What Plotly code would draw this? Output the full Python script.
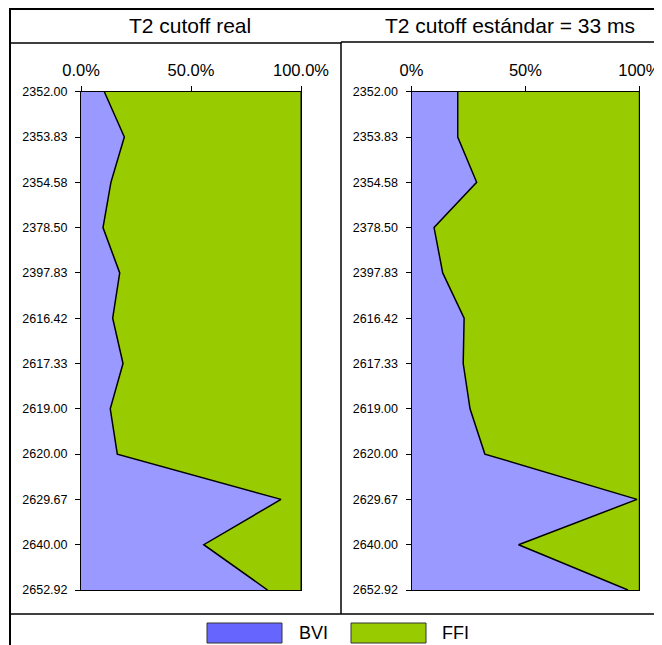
import plotly.graph_objects as go

# page is shown with an 8px body margin, so the figure is 8px smaller and shifted
OFF = 8
W, H = 662 - OFF, 645 - OFF

depths = ["2352.00", "2353.83", "2354.58", "2378.50", "2397.83", "2616.42",
          "2617.33", "2619.00", "2620.00", "2629.67", "2640.00", "2652.92"]

bvi_real = [10.6, 19.7, 13.6, 10.0, 17.6, 14.4, 19.1, 13.3, 16.5, 90.9, 55.8, 84.8]
ffi_real = [89.4, 80.3, 86.4, 90.0, 82.4, 85.6, 80.9, 86.7, 83.5, 9.1, 44.2, 15.2]

bvi_std = [20.3, 20.3, 28.6, 9.9, 13.7, 23.1, 22.7, 25.7, 32.2, 99.0, 47.0, 95.0]
ffi_std = [79.7, 79.7, 71.4, 90.1, 86.3, 76.9, 77.3, 74.3, 67.8, 1.0, 53.0, 5.0]

xtick_vals = [0, 50, 100]
xtick_real = ["0.0%", "50.0%", "100.0%"]
xtick_std = ["0%", "50%", "100%"]

titles = ["T2 cutoff real", "T2 cutoff estándar = 33 ms"]
legend_names = ["BVI", "FFI"]

FONT = "Arial, 'Liberation Sans', sans-serif"
BVI_FILL = "#9999ff"
BVI_LEG = "#6666ff"
FFI_FILL = "#99cc00"


def px(x):
    return (x - OFF) / W


def py(y):
    return 1 - (y - OFF) / H


fig = go.Figure()

for (bvi, ffi, xa, ya, sg) in [(bvi_real, ffi_real, "x", "y", "a"),
                               (bvi_std, ffi_std, "x2", "y2", "b")]:
    fig.add_trace(go.Scatter(
        x=bvi, y=depths, xaxis=xa, yaxis=ya, name="BVI",
        stackgroup=sg, orientation="h", mode="lines",
        line=dict(color="black", width=1.5), fillcolor=BVI_FILL,
        showlegend=False))
    fig.add_trace(go.Scatter(
        x=ffi, y=depths, xaxis=xa, yaxis=ya, name="FFI",
        stackgroup=sg, orientation="h", mode="lines",
        line=dict(color="black", width=1), fillcolor=FFI_FILL,
        showlegend=False))

y_dom = [py(590), py(91.7)]

xcommon = dict(range=[0, 100], side="top", tickmode="array", tickvals=xtick_vals,
               ticks="outside", ticklen=5, tickcolor="black", showgrid=False,
               zeroline=False, showline=True, mirror=True, linecolor="black",
               linewidth=1, tickfont=dict(family=FONT, size=16.5, color="black"),
               fixedrange=True, automargin=False, ticklabelstandoff=3)
ycommon = dict(type="category", range=[11, 0], ticks="outside", ticklen=5,
               tickcolor="black", showgrid=False, zeroline=False, showline=True,
               mirror=True, linecolor="black", linewidth=1,
               tickfont=dict(family=FONT, size=12.5, color="black"),
               domain=y_dom, fixedrange=True, automargin=False, ticklabelstandoff=5)

fig.update_layout(
    width=W, height=H,
    margin=dict(l=0, r=0, t=0, b=0, autoexpand=False),
    paper_bgcolor="white", plot_bgcolor="white",
    showlegend=False,
    xaxis=dict(domain=[px(81), px(301)], anchor="y", ticktext=xtick_real, **xcommon),
    yaxis=dict(anchor="x", **ycommon),
    xaxis2=dict(domain=[px(411.5), px(639.3)], anchor="y2", ticktext=xtick_std, **xcommon),
    yaxis2=dict(anchor="x2", **ycommon),
)

# chart frames
lines = [
    (10, 9, 662, 9, 2),
    (10, 8, 10, 645, 2),
    (10, 43, 341, 43, 1.5),
    (341, 42, 662, 42, 1.5),
    (341, 42, 341, 614, 1.5),
    (10, 614, 662, 614, 1.5),
]
for x0, y0, x1, y1, w in lines:
    fig.add_shape(type="line", xref="paper", yref="paper",
                  x0=px(x0), y0=py(y0), x1=px(x1), y1=py(y1),
                  line=dict(color="black", width=w))

# titles
for txt, cx in zip(titles, [190, 510]):
    fig.add_annotation(text=txt, xref="paper", yref="paper", x=px(cx), y=py(26),
                       xanchor="center", yanchor="middle", showarrow=False,
                       font=dict(family=FONT, size=21, color="black"))

# legend
for name, col, x0, tx in zip(legend_names, [BVI_LEG, FFI_FILL], [207, 351], [297, 440]):
    fig.add_shape(type="rect", xref="paper", yref="paper",
                  x0=px(x0), x1=px(x0 + 75), y0=py(643), y1=py(623),
                  fillcolor=col, line=dict(color="#333333", width=1))
    fig.add_annotation(text=name, xref="paper", yref="paper", x=px(tx), y=py(633),
                       xanchor="left", yanchor="middle", showarrow=False,
                       font=dict(family=FONT, size=18, color="black"))

fig.write_html("out.html")
